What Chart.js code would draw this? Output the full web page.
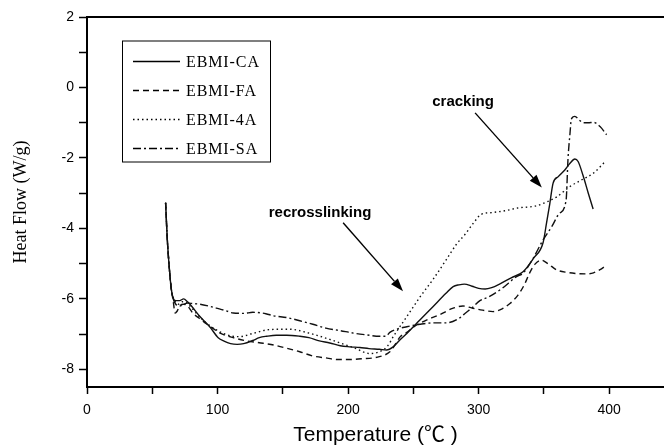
<!DOCTYPE html>
<html lang="en">
<head>
  <meta charset="UTF-8">
  <title>DSC Heat Flow</title>
  <script src="https://cdn.jsdelivr.net/npm/chart.js"></script>
  <style>
    html, body { margin: 0; padding: 0; background: #fff; overflow: hidden; }
    canvas { display: block; }
  </style>
</head>
<body>
  <canvas id="dscChart" width="664" height="446"></canvas>
  <script>
    // Series: temperature (°C) and heat flow (W/g)
    const caTemp = [60.2, 61.5, 63, 64.5, 66, 68, 71, 74, 77, 80, 86.5, 94, 100.5, 105, 110, 115, 120, 127, 132, 137.6, 145, 153, 163, 170, 178, 186, 194, 202, 209, 216, 224, 229.5, 234.5, 240, 245, 255, 265, 275, 280.5, 285, 289, 295, 300, 305, 310, 316, 325, 334, 342, 349.4, 352, 354.5, 357, 361, 366, 370, 373.7, 376.2, 380, 384, 387.7];
    const caFlow = [-3.27, -4.3, -5.1, -5.7, -5.98, -6.05, -6.05, -6.0, -6.08, -6.2, -6.5, -6.79, -7.1, -7.2, -7.27, -7.29, -7.27, -7.18, -7.1, -7.06, -7.03, -7.03, -7.06, -7.1, -7.19, -7.25, -7.33, -7.36, -7.38, -7.41, -7.43, -7.45, -7.36, -7.15, -6.98, -6.6, -6.22, -5.84, -5.65, -5.6, -5.58, -5.64, -5.7, -5.72, -5.68, -5.58, -5.4, -5.23, -4.85, -4.4, -3.85, -3.3, -2.72, -2.53, -2.34, -2.15, -2.03, -2.1, -2.5, -3.0, -3.45];

    const faTemp = [60.2, 61.5, 63, 64.5, 66, 67.5, 69, 71, 74, 77, 81, 86, 92, 97, 102, 112, 122, 135, 143, 153, 163, 173, 184, 191, 200, 210, 224, 232, 236, 240, 245, 250, 260, 270, 280, 288, 295, 303, 311, 318, 324, 330, 335, 339, 343, 348, 353, 360, 368, 375, 382, 388, 393, 397];
    const faFlow = [-3.27, -4.3, -5.1, -5.7, -6.05, -6.4, -6.35, -6.2, -6.15, -6.2, -6.4, -6.55, -6.72, -6.85, -6.97, -7.1, -7.19, -7.26, -7.31, -7.4, -7.5, -7.62, -7.68, -7.72, -7.72, -7.7, -7.64, -7.5, -7.3, -7.07, -6.95, -6.8, -6.6, -6.45, -6.27, -6.2, -6.26, -6.32, -6.36, -6.28, -6.13, -5.9, -5.6, -5.27, -5.02, -4.9, -5.0, -5.18, -5.25, -5.28, -5.29, -5.26, -5.17, -5.07];

    const fourTemp = [60.2, 61.5, 63, 64.5, 66, 68, 70, 73, 76, 80, 86, 92, 100, 110, 117, 127, 140, 155, 170, 186, 204, 217, 224, 230, 235, 245, 255, 265, 275, 283, 290, 296, 302, 310, 320, 330, 344, 352, 360, 370, 380, 388, 397];
    const fourFlow = [-3.27, -4.3, -5.1, -5.7, -5.95, -6.1, -6.15, -6.08, -6.1, -6.25, -6.5, -6.7, -6.9, -7.05, -7.07, -6.98, -6.87, -6.86, -6.97, -7.15, -7.38, -7.55, -7.5, -7.35, -7.05, -6.5, -5.95, -5.45, -4.9, -4.45, -4.15, -3.85, -3.6, -3.55, -3.5, -3.42, -3.36, -3.25, -3.1, -2.81, -2.6, -2.43, -2.1];

    const saTemp = [60.2, 61.5, 63, 64.5, 66, 68, 71, 74, 77, 81, 86.5, 93, 99, 106, 112, 120, 127, 137, 143, 153, 163, 173, 183, 194, 204, 214, 224, 229, 232, 238, 245, 255, 265, 275, 285, 290, 295, 301, 308, 318, 329, 334, 341, 349, 356, 362, 367, 368.5, 370, 371, 373.7, 377, 380, 384, 388, 393, 398];
    const saFlow = [-3.27, -4.3, -5.1, -5.7, -6.0, -6.15, -6.2, -6.15, -6.12, -6.13, -6.15, -6.2, -6.26, -6.33, -6.4, -6.41, -6.38, -6.42, -6.48, -6.53, -6.62, -6.72, -6.83, -6.9, -6.97, -7.02, -7.06, -7.06, -6.95, -6.85, -6.79, -6.72, -6.68, -6.68, -6.55, -6.4, -6.25, -6.05, -5.94, -5.7, -5.37, -5.27, -4.9, -4.35, -3.95, -3.57, -3.2, -2.0, -1.3, -0.9, -0.82, -0.92, -1.0, -1.0, -0.99, -1.11, -1.34];

    const seriesNames = ['EBMI-CA', 'EBMI-FA', 'EBMI-4A', 'EBMI-SA'];

    function points(xs, ys) {
      return xs.map((x, i) => ({ x: x, y: ys[i] }));
    }

    function makeSet(label, xs, ys, dash) {
      return {
        label: label,
        data: points(xs, ys),
        borderColor: '#111',
        borderWidth: 1.4,
        borderDash: dash,
        pointRadius: 0,
        fill: false,
        cubicInterpolationMode: 'monotone'
      };
    }

    // arrows with their labels, in data units
    const notes = [
      { text: 'recrosslinking', tx: 178.5, ty: -3.55, from: [196.2, -3.84], to: [242.1, -5.78] },
      { text: 'cracking', tx: 288.1, ty: -0.4, from: [297.3, -0.72], to: [348.4, -2.84] }
    ];

    // frame top edge, inset legend and annotation arrows
    const decorations = {
      id: 'decorations',
      afterDatasetsDraw(chart) {
        const ctx = chart.ctx;
        const area = chart.chartArea;
        const xs = chart.scales.x, ys = chart.scales.y;
        ctx.save();

        ctx.strokeStyle = '#000';
        ctx.lineWidth = 2;
        ctx.beginPath();
        ctx.moveTo(area.left, area.top);
        ctx.lineTo(area.right, area.top);
        ctx.stroke();

        // legend box
        const bx = area.left + 35, by = area.top + 23.5, bw = 148, bh = 121;
        ctx.lineWidth = 1;
        ctx.strokeRect(bx + 0.5, by + 0.5, bw, bh);
        chart.data.datasets.forEach((ds, i) => {
          const y = by + 21 + i * 29;
          ctx.setLineDash(ds.borderDash || []);
          ctx.lineWidth = 1.4;
          ctx.beginPath();
          ctx.moveTo(bx + 11, y);
          ctx.lineTo(bx + 58, y);
          ctx.stroke();
          ctx.setLineDash([]);
          ctx.fillStyle = '#000';
          ctx.font = '16px "Liberation Serif", serif';
          ctx.letterSpacing = '0.9px';
          ctx.textAlign = 'left';
          ctx.textBaseline = 'middle';
          ctx.fillText(ds.label, bx + 64, y + 1);
        });
        ctx.letterSpacing = '0px';

        // arrows
        notes.forEach(n => {
          ctx.fillStyle = '#000';
          ctx.font = 'bold 15px "Liberation Sans", Arial, sans-serif';
          ctx.textAlign = 'center';
          ctx.textBaseline = 'middle';
          ctx.fillText(n.text, xs.getPixelForValue(n.tx), ys.getPixelForValue(n.ty));
          const x1 = xs.getPixelForValue(n.from[0]), y1 = ys.getPixelForValue(n.from[1]);
          const x2 = xs.getPixelForValue(n.to[0]), y2 = ys.getPixelForValue(n.to[1]);
          const ang = Math.atan2(y2 - y1, x2 - x1);
          const len = 13, half = 4.5;
          ctx.lineWidth = 1.4;
          ctx.beginPath();
          ctx.moveTo(x1, y1);
          ctx.lineTo(x2 - len * Math.cos(ang), y2 - len * Math.sin(ang));
          ctx.stroke();
          ctx.beginPath();
          ctx.moveTo(x2, y2);
          ctx.lineTo(x2 - len * Math.cos(ang) + half * Math.sin(ang), y2 - len * Math.sin(ang) - half * Math.cos(ang));
          ctx.lineTo(x2 - len * Math.cos(ang) - half * Math.sin(ang), y2 - len * Math.sin(ang) + half * Math.cos(ang));
          ctx.closePath();
          ctx.fill();
        });
        ctx.restore();
      }
    };

    const tickFont = { family: '"Liberation Sans", Arial, sans-serif', size: 14 };

    new Chart(document.getElementById('dscChart'), {
      type: 'line',
      data: {
        datasets: [
          makeSet(seriesNames[0], caTemp, caFlow, []),
          makeSet(seriesNames[1], faTemp, faFlow, [6, 4]),
          makeSet(seriesNames[2], fourTemp, fourFlow, [1.5, 3]),
          makeSet(seriesNames[3], saTemp, saFlow, [8, 3, 2, 3])
        ]
      },
      options: {
        responsive: false,
        animation: false,
        devicePixelRatio: 1,
        layout: { padding: { top: 17, right: 0, left: 0, bottom: 0 } },
        plugins: { legend: { display: false }, tooltip: { enabled: false } },
        scales: {
          x: {
            type: 'linear',
            min: 0,
            max: 442,
            afterFit(scale) { scale.height = 59; },
            afterBuildTicks(scale) { scale.ticks = scale.ticks.filter(t => t.value % 50 === 0); },
            ticks: {
              stepSize: 50,
              color: '#000',
              font: tickFont,
              padding: 8,
              maxRotation: 0,
              autoSkip: false,
              callback: v => (v % 100 === 0 ? v : '')
            },
            grid: { drawOnChartArea: false, tickLength: 7, tickColor: '#000', tickWidth: 1.5 },
            border: { color: '#000', width: 2 },
            title: {
              display: true,
              text: 'Temperature (℃ )',
              color: '#000',
              font: { family: '"Liberation Sans", "Noto Sans CJK SC", sans-serif', size: 21, lineHeight: 1.0 },
              padding: { top: 0, bottom: 0 }
            }
          },
          y: {
            min: -8.5,
            max: 2,
            afterFit(scale) { scale.width = 87; },
            afterBuildTicks(scale) { scale.ticks = scale.ticks.filter(t => Number.isInteger(t.value)); },
            ticks: {
              stepSize: 1,
              color: '#000',
              font: tickFont,
              padding: 5,
              autoSkip: false,
              callback: v => (v % 2 === 0 ? v : '')
            },
            grid: { drawOnChartArea: false, tickLength: 8, tickColor: '#000', tickWidth: 1.5 },
            border: { color: '#000', width: 2 },
            title: {
              display: true,
              text: 'Heat Flow (W/g)',
              color: '#000',
              font: { family: '"Liberation Serif", "Times New Roman", serif', size: 18 },
              padding: { top: 10, bottom: 0 }
            }
          }
        }
      },
      plugins: [decorations]
    });
  </script>
</body>
</html>
